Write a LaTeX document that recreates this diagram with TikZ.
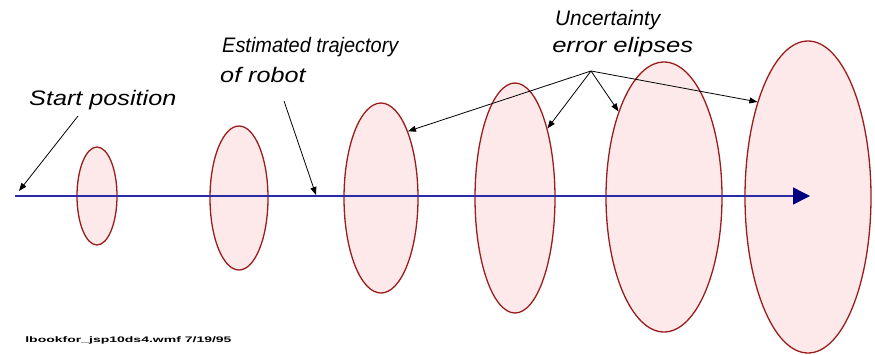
\documentclass[tikz,border=0pt]{standalone}
\usepackage{fontspec}
\setmainfont{Liberation Sans}
\usetikzlibrary{arrows.meta,shapes.geometric}
\definecolor{efill}{HTML}{FDE9E9}
\definecolor{edraw}{HTML}{9B1C1C}
\definecolor{traj}{HTML}{2B2BA8}
\definecolor{tip}{HTML}{000080}
\tikzset{
  unc/.style={ellipse,draw=edraw,fill=efill,line width=1.3pt,inner sep=0pt,minimum width=2*#1},
  lbl/.style={font=\fontsize{21}{23}\selectfont\itshape,anchor=west,inner sep=0pt},
  pointer/.style={-{Triangle[length=8pt,width=6pt]},line width=0.8pt,black},
}
\begin{document}
\begin{tikzpicture}[x=1pt,y=-1pt]
\useasboundingbox (0,0) rectangle (875,354);
\node[unc=20,minimum height=98pt]  (e1) at (97,196) {};
\node[unc=29,minimum height=144pt] (e2) at (239,198) {};
\node[unc=37,minimum height=190pt] (e3) at (381,198) {};
\node[unc=40,minimum height=230pt] (e4) at (515,198) {};
\node[unc=58,minimum height=270pt] (e5) at (664,197) {};
\node[unc=63,minimum height=312pt] (e6) at (808,197) {};
\coordinate (start) at (15,196);
\coordinate (endp) at (810,196);
\draw[traj,line width=1.5pt,-{Triangle[length=17pt,width=17pt,color=tip]}] (start) -- (endp);
\node[lbl,xscale=1.2] (tstart) at (29,100) {Start position};
\node[lbl,xscale=0.95] (test) at (222,47) {Estimated trajectory};
\node[lbl,xscale=1.2] (trob) at (220,75) {of robot};
\node[lbl,xscale=0.99] (tunc) at (555,20) {Uncertainty};
\node[lbl,xscale=1.22] (terr) at (552,47) {error elipses};
\coordinate (c1) at (78,116);
\coordinate (c1e) at (19,191);
\draw[pointer] (c1) -- (c1e);
\coordinate (c2) at (284,101);
\coordinate (c2e) at (316,195);
\draw[pointer] (c2) -- (c2e);
\coordinate (hub) at (591,71);
\draw[pointer] (hub) -- (e3.68);
\draw[pointer] (hub) -- (e4.65);
\draw[pointer] (hub) -- (e5.118);
\draw[pointer] (hub) -- (e6.118);
\node[font=\fontsize{8}{9}\selectfont\bfseries,anchor=west,inner sep=0pt,xscale=1.75] (foot) at (25,340) {lbookfor\_jsp10ds4.wmf 7/19/95};
\end{tikzpicture}
\end{document}
